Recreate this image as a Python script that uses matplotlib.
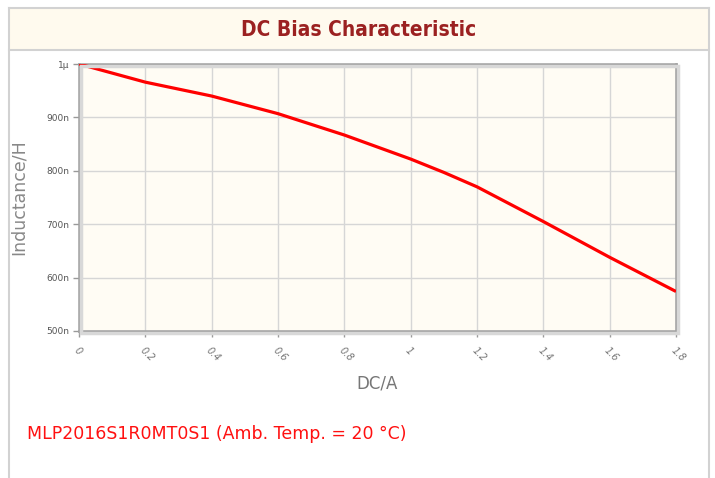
import matplotlib.pyplot as plt
from matplotlib.patches import Rectangle
from matplotlib.lines import Line2D

# values
dc_current = [0.0, 0.2, 0.4, 0.6, 0.8, 1.0, 1.1, 1.2, 1.4, 1.6, 1.8]
inductance_nh = [1000, 966, 940, 907, 867, 822, 797, 770, 705, 638, 574]

x_ticks = [0, 0.2, 0.4, 0.6, 0.8, 1.0, 1.2, 1.4, 1.6, 1.8]
x_labels = ["0", "0.2", "0.4", "0.6", "0.8", "1", "1.2", "1.4", "1.6", "1.8"]
y_ticks = [500, 600, 700, 800, 900, 1000]
y_labels = ["500n", "600n", "700n", "800n", "900n", "1µ"]

title = "DC Bias Characteristic"
footer = "MLP2016S1R0MT0S1 (Amb. Temp. = 20 °C)"

W, H = 715, 478


def fx(x):
    return x / W


def fy(y):
    return 1 - y / H


fig = plt.figure(figsize=(W / 100, H / 100), dpi=100)
fig.patch.set_facecolor("white")

# panel frame and header band
fig.patches.append(Rectangle((fx(9), fy(50)), fx(700), 42 / H, transform=fig.transFigure,
                             facecolor="#fffaee", edgecolor="none", zorder=0))
border = "#d2d2d2"
for (x0, y0, x1, y1) in [(9, 8, 709, 8), (9, 50, 709, 50), (9, 8, 9, 478), (709, 8, 709, 478)]:
    fig.lines.append(Line2D([fx(x0), fx(x1)], [fy(y0), fy(y1)], transform=fig.transFigure,
                            color=border, lw=1.5, zorder=1))

fig.text(fx(359), fy(30), title, ha="center", va="center", fontsize=15,
         fontweight="bold", fontstretch="condensed", color="#9b2121")

# plot area
left, right, top, bottom = 79, 676, 64, 331
ax = fig.add_axes([fx(left), fy(bottom), (right - left) / W, (bottom - top) / H])

# soft shadow behind the plot frame
fig.patches.append(Rectangle((fx(left + 2), fy(bottom + 2)), (right - left) / W, (bottom - top) / H,
                             transform=fig.transFigure, facecolor="none", edgecolor="#d8d8d8",
                             lw=2.5, zorder=0))

ax.set_facecolor("#fffcf4")
ax.plot(dc_current, inductance_nh, color="#ff0000", lw=2.3, solid_capstyle="butt", zorder=3)

ax.set_xlim(0, 1.8)
ax.set_ylim(500, 1000)
ax.set_xticks(x_ticks)
ax.set_xticklabels(x_labels, rotation=-45, ha="left", va="top", rotation_mode="anchor",
                   fontsize=7, color="#777777", fontstyle="italic")
ax.set_yticks(y_ticks)
ax.set_yticklabels(y_labels, fontsize=6.5, color="#555555")
ax.tick_params(axis="both", length=4, width=1, color="#999999")
ax.tick_params(axis="x", pad=6)
ax.tick_params(axis="y", pad=3)
ax.grid(True, color="#d6d6d6", lw=1)
ax.set_axisbelow(True)
for sp in ax.spines.values():
    sp.set_color("#a0a0a0")
    sp.set_linewidth(1.8)

ax.set_ylabel("Inductance/H", fontsize=12.5, color="#888888", labelpad=13)
ax.set_xlabel("DC/A", fontsize=12, color="#777777", labelpad=8)

fig.text(fx(27), fy(434), footer, ha="left", va="center", fontsize=12.5, color="#ff1010")

fig.savefig("out.png", dpi=100)
